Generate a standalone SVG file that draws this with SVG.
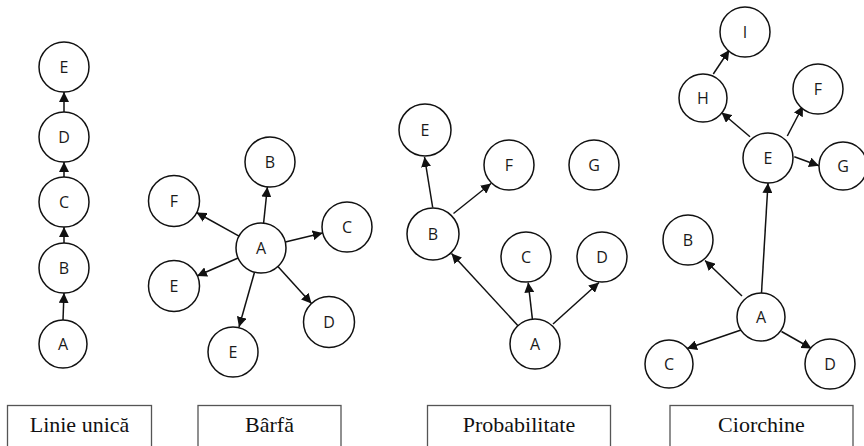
<svg xmlns="http://www.w3.org/2000/svg" width="864" height="446" viewBox="0 0 864 446">
  <style>
    .node circle { fill: #ffffff; stroke: #111111; stroke-width: 1.5; }
    .node text { font-family: "Open Sans", "Noto Sans", sans-serif; font-size: 16px; fill: #1a1a1a; text-anchor: middle; }
    .edges line { stroke: #111111; stroke-width: 1.5; marker-end: url(#arrow); }
    .label rect { fill: #ffffff; stroke: #555555; stroke-width: 1.3; }
    .label text { font-family: "Liberation Serif", "Times New Roman", serif; font-size: 22px; fill: #111111; text-anchor: middle; }
  </style>
  <defs>
    <marker id="arrow" viewBox="0 0 10 10" refX="10" refY="5" markerWidth="10" markerHeight="10" markerUnits="userSpaceOnUse" orient="auto">
      <path d="M0,0 L10,5 L0,10 z" fill="#111111"/>
    </marker>
  </defs>

  <rect width="864" height="446" fill="#ffffff"/>

  <!-- Connectors -->
  <g id="connectors" class="edges">
    <!-- Linie unica -->
    <line x1="64" y1="112" x2="64" y2="92"/>
    <line x1="64" y1="177" x2="64" y2="162"/>
    <line x1="64" y1="243" x2="64" y2="227"/>
    <line x1="63" y1="320" x2="64" y2="293"/>
    <!-- Barfa -->
    <line x1="263.6" y1="223.2" x2="267.4" y2="187"/>
    <line x1="239" y1="236.1" x2="196.5" y2="212.5"/>
    <line x1="285.3" y1="242.1" x2="322.7" y2="232.9"/>
    <line x1="238.1" y1="258" x2="197" y2="276"/>
    <line x1="254.5" y1="272.2" x2="239" y2="327"/>
    <line x1="277.9" y1="266.4" x2="311.5" y2="303.5"/>
    <!-- Probabilitate -->
    <line x1="518" y1="325.7" x2="451.5" y2="253.5"/>
    <line x1="532.4" y1="319.2" x2="528.2" y2="282.5"/>
    <line x1="553" y1="324" x2="599" y2="282.5"/>
    <line x1="432.7" y1="207.5" x2="424.5" y2="157"/>
    <line x1="453.5" y1="213.5" x2="491" y2="183.5"/>
    <!-- Ciorchine -->
    <line x1="761.5" y1="293" x2="768" y2="183"/>
    <line x1="742" y1="296" x2="705" y2="260.5"/>
    <line x1="741" y1="330" x2="687" y2="348.5"/>
    <line x1="781.5" y1="331.5" x2="811.5" y2="348.5"/>
    <line x1="750" y1="136.7" x2="721.5" y2="112.5"/>
    <line x1="787.3" y1="136" x2="803" y2="106"/>
    <line x1="794.3" y1="156.7" x2="819" y2="165.7"/>
    <line x1="713.3" y1="74" x2="729.3" y2="50"/>
  </g>

  <!-- Linie unica nodes -->
  <g id="lu-E" class="node"><circle cx="64" cy="67" r="25"/><text x="64" y="72.5">E</text></g>
  <g id="lu-D" class="node"><circle cx="64" cy="137" r="25"/><text x="64" y="142.5">D</text></g>
  <g id="lu-C" class="node"><circle cx="64" cy="202" r="25"/><text x="64" y="207.5">C</text></g>
  <g id="lu-B" class="node"><circle cx="64" cy="268" r="25"/><text x="64" y="273.5">B</text></g>
  <g id="lu-A" class="node"><circle cx="63" cy="344" r="24"/><text x="63" y="349.5">A</text></g>

  <!-- Barfa nodes -->
  <g id="b-A" class="node"><circle cx="261" cy="248" r="25"/><text x="261" y="253.5">A</text></g>
  <g id="b-B" class="node"><circle cx="270" cy="162" r="25"/><text x="270" y="167.5">B</text></g>
  <g id="b-F" class="node"><circle cx="174" cy="201" r="25.5"/><text x="174" y="206.5">F</text></g>
  <g id="b-C" class="node"><circle cx="347" cy="227" r="25"/><text x="347" y="232.5">C</text></g>
  <g id="b-E1" class="node"><circle cx="174" cy="286" r="25.5"/><text x="174" y="291.5">E</text></g>
  <g id="b-E2" class="node"><circle cx="233" cy="352" r="25"/><text x="233" y="357.5">E</text></g>
  <g id="b-D" class="node"><circle cx="329" cy="322" r="25.5"/><text x="329" y="327.5">D</text></g>

  <!-- Probabilitate nodes -->
  <g id="p-E" class="node"><circle cx="425" cy="130" r="26"/><text x="425" y="135.5">E</text></g>
  <g id="p-F" class="node"><circle cx="509" cy="165" r="25"/><text x="509" y="170.5">F</text></g>
  <g id="p-G" class="node"><circle cx="594" cy="165" r="25"/><text x="594" y="170.5">G</text></g>
  <g id="p-B" class="node"><circle cx="433" cy="234" r="26"/><text x="433" y="239.5">B</text></g>
  <g id="p-C" class="node"><circle cx="526" cy="257" r="25"/><text x="526" y="262.5">C</text></g>
  <g id="p-D" class="node"><circle cx="602" cy="257" r="25"/><text x="602" y="262.5">D</text></g>
  <g id="p-A" class="node"><circle cx="535" cy="344" r="25"/><text x="535" y="349.5">A</text></g>

  <!-- Ciorchine nodes -->
  <g id="c-I" class="node"><circle cx="745" cy="32" r="25"/><text x="745" y="37.5">I</text></g>
  <g id="c-H" class="node"><circle cx="703" cy="98" r="24"/><text x="703" y="103.5">H</text></g>
  <g id="c-F" class="node"><circle cx="818" cy="89" r="25"/><text x="818" y="94.5">F</text></g>
  <g id="c-E" class="node"><circle cx="768" cy="158" r="25"/><text x="768" y="163.5">E</text></g>
  <g id="c-G" class="node"><circle cx="843" cy="166" r="24"/><text x="843" y="171.5">G</text></g>
  <g id="c-B" class="node"><circle cx="688" cy="240" r="25"/><text x="688" y="245.5">B</text></g>
  <g id="c-A" class="node"><circle cx="761" cy="317" r="24"/><text x="761" y="322.5">A</text></g>
  <g id="c-C" class="node"><circle cx="669" cy="364" r="24"/><text x="669" y="369.5">C</text></g>
  <g id="c-D" class="node"><circle cx="830" cy="364" r="25"/><text x="830" y="369.5">D</text></g>

  <!-- Captions -->
  <g id="label-linie" class="label"><rect x="7.5" y="405.5" width="144" height="60"/><text x="79.5" y="432">Linie unică</text></g>
  <g id="label-barfa" class="label"><rect x="198" y="405.5" width="143" height="60"/><text x="269.5" y="432">Bârfă</text></g>
  <g id="label-prob" class="label"><rect x="427.5" y="405.5" width="183" height="60"/><text x="519" y="432">Probabilitate</text></g>
  <g id="label-ciorchine" class="label"><rect x="670" y="405.5" width="183" height="60"/><text x="761.5" y="432">Ciorchine</text></g>
</svg>
